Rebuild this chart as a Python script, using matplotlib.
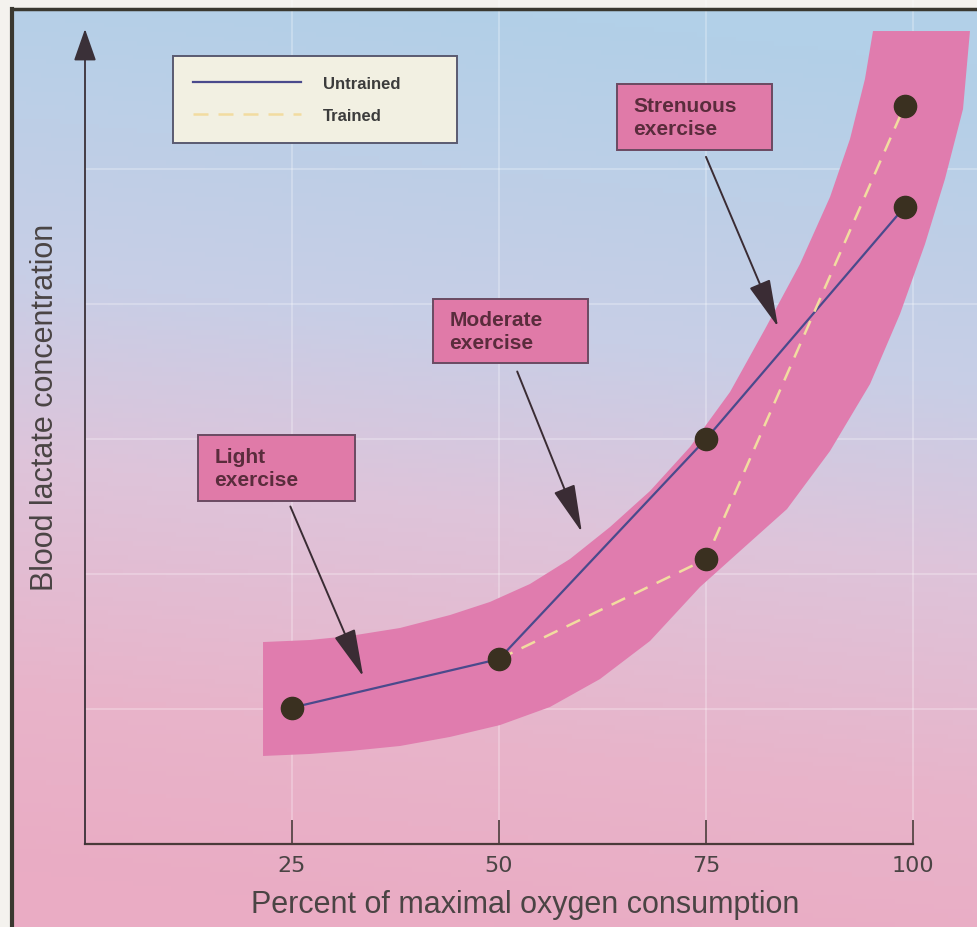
import matplotlib
matplotlib.use('Agg')
import matplotlib.pyplot as plt
import numpy as np
from matplotlib.patches import Rectangle
from matplotlib.lines import Line2D

# ---- data ----
pct_untrained = [25, 50, 75, 99]
lactate_untrained = [1.01, 1.37, 3.00, 4.72]
pct_trained = [50, 75, 99]
lactate_trained = [1.37, 2.11, 5.47]
xtick_vals = [25, 50, 75, 100]

# pink band edges
band_up_x = [21.50, 27.17, 32.00, 38.04, 44.08, 48.91, 53.74, 58.57, 63.41, 68.24,
             73.07, 77.90, 82.13, 86.35, 89.98, 92.39, 94.20, 95.17]
band_up_y = [1.496, 1.511, 1.541, 1.600, 1.696, 1.793, 1.926, 2.111, 2.348, 2.615,
             2.941, 3.348, 3.815, 4.296, 4.793, 5.222, 5.667, 6.022]
band_lo_x = [21.50, 27.17, 32.00, 38.04, 44.08, 50.12, 56.16, 62.20, 68.24, 74.28,
             79.11, 84.78, 89.98, 94.81, 98.43, 101.45, 103.86, 106.04, 106.88]
band_lo_y = [0.652, 0.667, 0.689, 0.726, 0.793, 0.881, 1.015, 1.222, 1.504, 1.904,
             2.170, 2.481, 2.911, 3.407, 3.926, 4.444, 4.926, 5.444, 6.022]

# annotation boxes: label, box (x0, y0, x1, y1), arrow start, arrow tip
notes = [
    ("Light\nexercise", (13.6, 2.54, 32.6, 3.03), (24.8, 2.50), (33.6, 1.24)),
    ("Moderate\nexercise", (42.0, 3.56, 60.7, 4.04), (52.2, 3.50), (60.0, 2.31)),
    ("Strenuous\nexercise", (64.25, 5.14, 82.97, 5.63), (75.0, 5.09), (83.7, 3.83)),
]

W, H = 977, 928
fig = plt.figure(figsize=(W / 100, H / 100), dpi=100)
fig.patch.set_facecolor('#f4f2ee')

# ---- gradient background ----
fx0, fy1 = 12 / W, 1 - 10 / H
bg = fig.add_axes([fx0, 0, 1 - fx0, fy1])
bg.axis('off')
ny, nx = 200, 200
yy, xx = np.mgrid[0:1:ny * 1j, 0:1:nx * 1j]
t = np.clip(yy + 0.12 * (0.5 - xx), 0, 1)
stops = [0.0, 0.35, 0.55, 0.8, 1.0]
cols = np.array([[178, 208, 232], [200, 206, 230], [222, 196, 218],
                 [232, 180, 202], [234, 172, 196]]) / 255
img = np.dstack([np.interp(t, stops, cols[:, i]) for i in range(3)])
bg.imshow(img, aspect='auto', extent=[0, 1, 0, 1], origin='upper')

# frame lines
fig.add_artist(Line2D([fx0, fx0], [0, fy1], transform=fig.transFigure, color='#3a3830', lw=3))
fig.add_artist(Line2D([fx0, 1], [fy1, fy1], transform=fig.transFigure, color='#3a3830', lw=2.5))

# ---- main axes ----
x0px, y0px = 85, 845
xs, ys = 8.28, 135.0
ax = fig.add_axes([x0px / W, (H - y0px) / H, (W - x0px) / W, y0px / H])
ax.set_facecolor('none')
ax.set_xlim(0, (W - x0px) / xs)
ax.set_ylim(0, y0px / ys)

ax.set_xticks(xtick_vals)
ax.set_xticklabels([str(v) for v in xtick_vals])
ax.set_yticks([1, 2, 3, 4, 5])
ax.set_yticklabels([])
ax.tick_params(axis='y', length=0)
ax.tick_params(axis='x', direction='in', length=17, width=1.2, color='#4a3a3a',
               labelsize=16, labelcolor='#4a4444', pad=8)
ax.grid(True, color='white', alpha=0.25, lw=1.5)
ax.set_axisbelow(True)

for s in ['top', 'right', 'left']:
    ax.spines[s].set_visible(False)
ax.spines['bottom'].set_bounds(0, 100)
ax.spines['bottom'].set_color('#4a3a3a')
ax.spines['bottom'].set_linewidth(1.6)

# y axis with arrow
ax.annotate('', xy=(0, (y0px - 30) / ys), xytext=(0, 0),
            arrowprops=dict(arrowstyle='-|>,head_length=1.0,head_width=0.35',
                            mutation_scale=20, lw=1.3, color='#3a3038',
                            shrinkA=0, shrinkB=0), annotation_clip=False)

# band
ax.fill(band_up_x + band_lo_x[::-1], band_up_y + band_lo_y[::-1],
        color='#e07cae', lw=0, zorder=2)

# lines and points
ax.plot(pct_untrained, lactate_untrained, color='#4a4a8c', lw=1.6, zorder=3, label='Untrained')
ax.plot(pct_trained, lactate_trained, color='#f2dca0', lw=1.8, ls=(0, (6, 4)), zorder=3, label='Trained')
ax.plot(pct_untrained + pct_trained[1:], lactate_untrained + lactate_trained[1:],
        'o', color='#3a3020', ms=16, zorder=4)

# notes
for text, (bx0, by0, bx1, by1), start, tip in notes:
    ax.add_patch(Rectangle((bx0, by0), bx1 - bx0, by1 - by0, facecolor='#e07aa8',
                           edgecolor='#6a4a62', lw=1.4, zorder=5))
    ax.text(bx0 + 2.0, (by0 + by1) / 2, text, ha='left', va='center', fontsize=15,
            fontweight='bold', color='#5a2c3c', linespacing=1.25, zorder=6,
            family=['Liberation Sans', 'DejaVu Sans'])
    ax.annotate('', xy=tip, xytext=start,
                arrowprops=dict(arrowstyle='-|>,head_length=1.5,head_width=0.35',
                                mutation_scale=20, lw=1.4, color='#3a2c34',
                                shrinkA=0, shrinkB=0), zorder=6)

# legend
leg = ax.legend(loc='upper left', bbox_to_anchor=(173 / W, 1 - 145 / H, 284 / W, 88 / H),
                bbox_transform=fig.transFigure, mode='expand', borderaxespad=0,
                handlelength=6.5, handletextpad=1.3, labelspacing=1.0, borderpad=1.2,
                fancybox=False, prop=dict(size=12, weight='bold', family=['Liberation Sans', 'DejaVu Sans']))
leg.get_frame().set_facecolor('#f2f0e2')
leg.get_frame().set_edgecolor('#5a5a70')
leg.get_frame().set_linewidth(1.4)
leg.get_frame().set_alpha(1)
for txt in leg.get_texts():
    txt.set_color('#3c3c3c')

# axis labels
fig.text(525 / W, 1 - 905 / H, 'Percent of maximal oxygen consumption', ha='center', va='center',
         fontsize=22, color='#4a4444', family=['Liberation Sans', 'DejaVu Sans'])
fig.text(45 / W, 1 - 407 / H, 'Blood lactate concentration', ha='center', va='center',
         rotation=90, fontsize=22, color='#4a4444', family=['Liberation Sans', 'DejaVu Sans'])

fig.savefig('out.png', dpi=100)
